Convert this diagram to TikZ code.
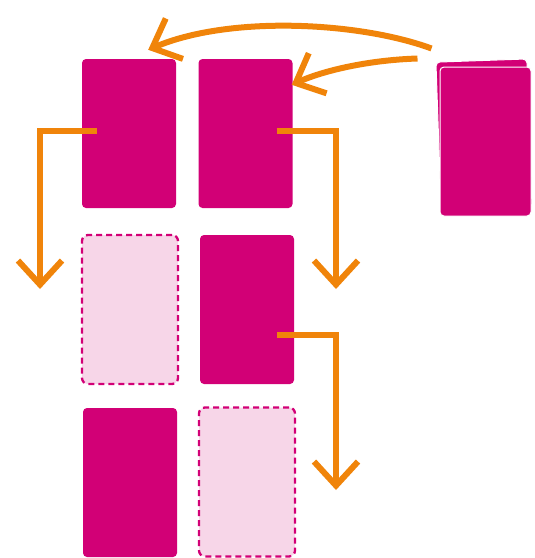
\documentclass[tikz,border=0pt]{standalone}
\usetikzlibrary{arrows.meta}
\definecolor{mag}{RGB}{210,0,118}
\definecolor{lpink}{RGB}{247,214,232}
\definecolor{orng}{RGB}{240,132,10}
\begin{document}
\begin{tikzpicture}[x=1pt,y=-1pt,
  card/.style={rectangle, rounded corners=4pt, fill=mag, minimum width=94pt, minimum height=149pt, inner sep=0pt},
  ghost/.style={rectangle, rounded corners=6pt, fill=lpink, draw=mag, line width=2.3pt, dash pattern=on 6pt off 4pt, minimum width=96pt, minimum height=149pt, inner sep=0pt},
  flow/.style={draw=orng, line width=6pt, -{Straight Barb[length=24pt,width=44pt]}}
]
\useasboundingbox (0,0) rectangle (535,558);
% cards
\node[card] (card1) at (129,133.5) {};
\node[card] (card2) at (245.5,133.5) {};
\node[ghost] (ghost1) at (130,309.5) {};
\node[card] (card3) at (247,309.5) {};
\node[card] (card4) at (130,482.5) {};
\node[ghost] (ghost2) at (247,482) {};
% deck
\node[card, minimum width=91pt, draw=white, line width=1pt, rotate=2] (deckback) at (484,135) {};
\node[card, minimum width=91pt, draw=white, line width=1pt] (deck) at (485.5,141.5) {};
% end points
\coordinate (e1) at (40,289);
\coordinate (e2) at (336,289);
\coordinate (e3) at (336,490);
% connectors
\draw[flow] ([shift={(15,-2.5)}]card1.west) -| (e1);
\draw[flow] ([shift={(-16,-2.5)}]card2.east) -| (e2);
\draw[flow] ([shift={(-17,25.5)}]card3.east) -| (e3);
\draw[flow] ([shift={(-8,-18)}]deck.north west) .. controls (360,22) and (230,15) .. ([shift={(-28,-9)}]card1.north east);
\draw[flow] ([shift={(-22,-8)}]deck.north west) .. controls (370,60) and (325,70) .. ([shift={(-1,26)}]card2.north east);
\end{tikzpicture}
\end{document}
